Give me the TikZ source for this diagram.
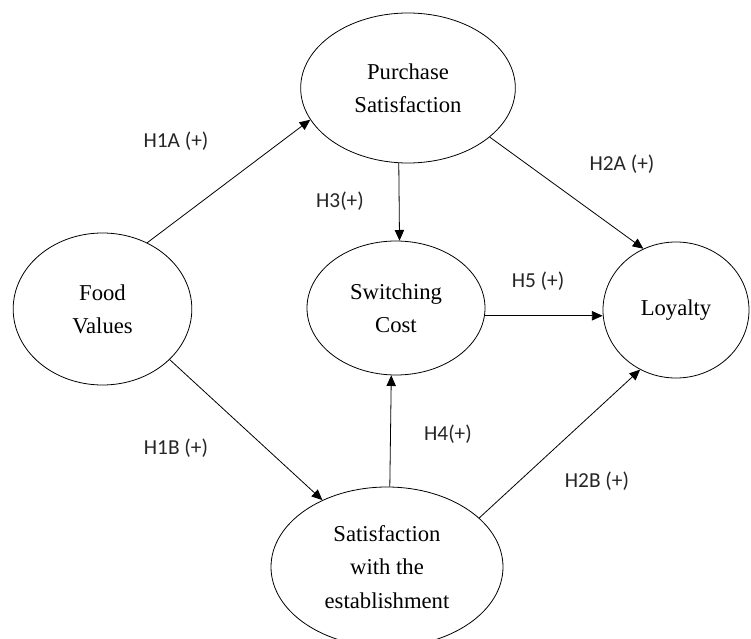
\documentclass[tikz,border=0pt]{standalone}
\usepackage{fontspec}
\setmainfont{Liberation Serif}
\newfontfamily\hypfont{Carlito}
\usetikzlibrary{shapes.geometric,arrows.meta}
\tikzset{
  construct/.style={draw,ellipse,inner sep=0pt,line width=0.6pt,align=center,
    font=\fontsize{17}{25}\selectfont},
  hyp/.style={font=\hypfont\fontsize{16}{19}\selectfont,text=black!85},
  path/.style={line width=0.6pt,-{Triangle[length=8pt,width=7pt]}}
}
\begin{document}
\begin{tikzpicture}[x=0.75pt,y=-0.75pt]
    % Khung
    \useasboundingbox (0,0) rectangle (751,639);
    
    % Các biến
    \node[construct,minimum width=161pt,minimum height=112.5pt] (purch) at (408,88) {Purchase\\Satisfaction};
    \node[construct,minimum width=134pt,minimum height=114pt] (food) at (102.5,309) {Food\\Values};
    \node[construct,minimum width=133.5pt,minimum height=100.5pt] (switch) at (396,308) {Switching\\Cost};
    \node[construct,minimum width=109.5pt,minimum height=102pt] (loyal) at (676,310) {Loyalty};
    \node[construct,minimum width=174pt,minimum height=120pt] (estab) at (387,567) {Satisfaction\\with the\\establishment};
    
    % Các đường dẫn
    \draw[path] (food.56) -- (purch.198);
    \draw[path] (food.-37) -- (estab.134);
    \draw[path] (purch.263) -- (switch.87);
    \draw[path] (purch.-31) -- (loyal.118);
    \draw[path] (switch.-5) -- (switch.-5 -| loyal.west);
    \draw[path] (estab.88.5) -- (switch.266);
    \draw[path] (estab.28) -- (loyal.239);
    
    % Giả thuyết
    \node[hyp] (h1a) at (176,141) {H1A (+)};
    \node[hyp] (h1b) at (176,448) {H1B (+)};
    \node[hyp] (h3) at (340,201) {H3(+)};
    \node[hyp] (h2a) at (622,164) {H2A (+)};
    \node[hyp] (h5) at (538,281) {H5 (+)};
    \node[hyp] (h4) at (448,434) {H4(+)};
    \node[hyp] (h2b) at (597,481) {H2B (+)};
\end{tikzpicture}
\end{document}
